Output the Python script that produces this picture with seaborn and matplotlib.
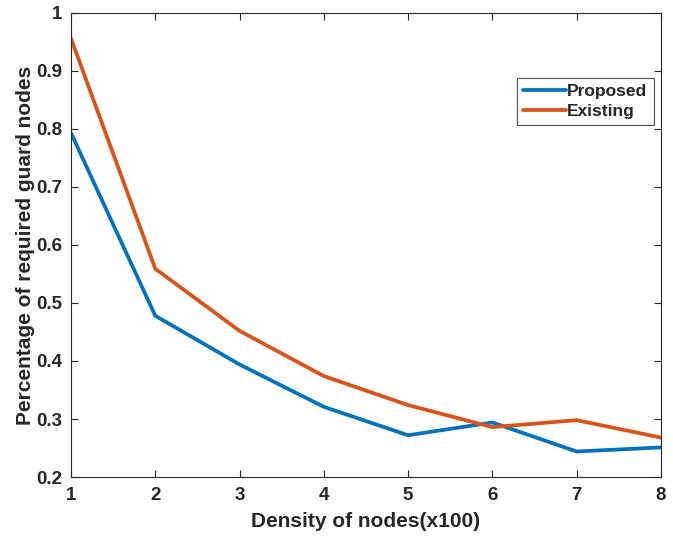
import pandas as pd
import matplotlib
matplotlib.use('Agg')
import matplotlib.pyplot as plt
import seaborn as sns

# === Data ===
density = [1, 2, 3, 4, 5, 6, 7, 8]
proposed = [0.793, 0.478, 0.394, 0.321, 0.272, 0.294, 0.244, 0.251]
existing = [0.956, 0.559, 0.452, 0.374, 0.324, 0.286, 0.298, 0.268]
series = ['Proposed', 'Existing']

df = pd.DataFrame({
    'density': density * 2,
    'value': proposed + existing,
    'method': ['Proposed'] * len(density) + ['Existing'] * len(density),
})

# === Style ===
sns.set_style('ticks')
plt.rcParams['font.family'] = ['Liberation Sans', 'DejaVu Sans']
plt.rcParams['font.weight'] = 'bold'
plt.rcParams['axes.labelweight'] = 'bold'

fig = plt.figure(figsize=(6.73, 5.39), dpi=100)
ax = fig.add_axes([0.1055, 0.115, 0.8765, 0.861])

sns.lineplot(data=df, x='density', y='value', hue='method', hue_order=series,
             palette=['#0072BD', '#D95319'], linewidth=2.7, ax=ax)

ax.set_xlim(1, 8)
ax.set_ylim(0.2, 1.0)
ax.set_xticks(density)
ax.set_yticks([0.2, 0.3, 0.4, 0.5, 0.6, 0.7, 0.8, 0.9, 1.0])
ax.set_yticklabels(['0.2', '0.3', '0.4', '0.5', '0.6', '0.7', '0.8', '0.9', '1'])
ax.tick_params(direction='in', top=True, right=True, length=5, width=0.8,
               colors='#262626', labelsize=13.5)
ax.tick_params(axis='x', pad=7)
ax.tick_params(axis='y', pad=6)
for lab in ax.get_xticklabels() + ax.get_yticklabels():
    lab.set_fontweight('bold')
for sp in ax.spines.values():
    sp.set_visible(True)
    sp.set_color('#262626')
    sp.set_linewidth(0.8)

ax.set_xlabel('Density of nodes(x100)', fontsize=15, fontweight='bold',
              color='#262626', labelpad=6)
ax.set_ylabel('Percentage of required guard nodes', fontsize=15, fontweight='bold',
              color='#262626', labelpad=1)

leg = ax.legend(loc='upper left', bbox_to_anchor=(0.756, 0.86), fontsize=12.5,
                frameon=True, fancybox=False, edgecolor='#262626',
                handlelength=2.5, handletextpad=0.05, borderpad=0.35,
                borderaxespad=0, labelspacing=0.25)
leg.get_frame().set_linewidth(0.8)
for t in leg.get_texts():
    t.set_fontweight('bold')

fig.savefig('out.png', dpi=100)
